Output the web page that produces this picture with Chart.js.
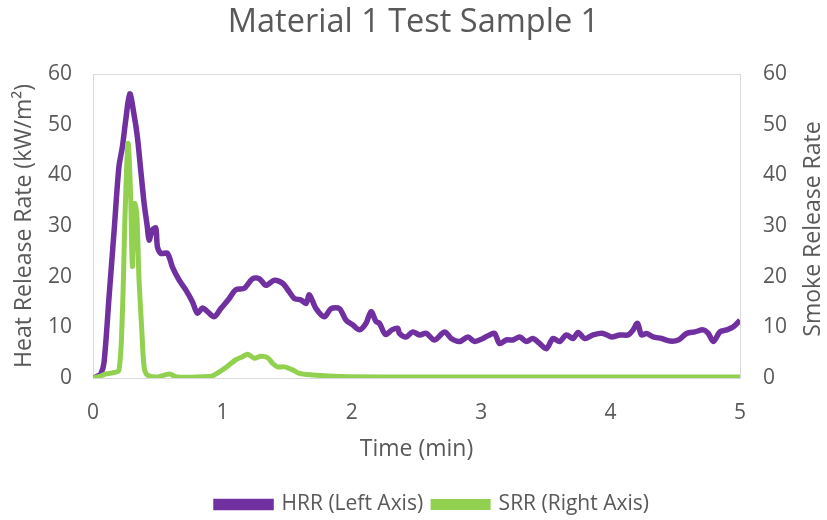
<!DOCTYPE html>
<html>
<head>
<meta charset="utf-8">
<script src="https://cdn.jsdelivr.net/npm/chart.js@4.4.1/dist/chart.umd.min.js"></script>
<style>
  html, body { margin: 0; padding: 0; background: #ffffff; }
  #wrap { width: 827px; height: 520px; }
</style>
</head>
<body>
<div id="wrap"><canvas id="c" width="827" height="520"></canvas></div>
<script>
const chartTitle = 'Material 1 Test Sample 1';
const xTitle = 'Time (min)';
const leftTitle = 'Heat Release Rate (kW/m²)';
const rightTitle = 'Smoke Release Rate';
const hrrLabel = 'HRR (Left Axis)';
const srrLabel = 'SRR (Right Axis)';

const hrrTime = [0, 0.03, 0.06, 0.085, 0.124, 0.163, 0.2, 0.227, 0.253, 0.284, 0.317, 0.343, 0.369, 0.395, 0.42, 0.433, 0.459, 0.485, 0.498, 0.524, 0.575, 0.614, 0.666, 0.717, 0.769, 0.807, 0.846, 0.885, 0.937, 0.988, 1.053, 1.104, 1.169, 1.233, 1.285, 1.337, 1.401, 1.465, 1.517, 1.556, 1.607, 1.646, 1.672, 1.724, 1.788, 1.84, 1.904, 1.956, 2.007, 2.059, 2.11, 2.149, 2.188, 2.214, 2.26, 2.31, 2.355, 2.368, 2.42, 2.471, 2.523, 2.575, 2.639, 2.717, 2.768, 2.833, 2.897, 2.949, 3.013, 3.065, 3.104, 3.142, 3.194, 3.245, 3.297, 3.349, 3.4, 3.452, 3.504, 3.555, 3.607, 3.658, 3.71, 3.749, 3.8, 3.865, 3.942, 4.007, 4.071, 4.136, 4.174, 4.208, 4.239, 4.278, 4.329, 4.394, 4.458, 4.523, 4.587, 4.652, 4.716, 4.755, 4.794, 4.845, 4.897, 4.949, 5.0];
const hrrValue = [0, 0.3, 0.8, 3, 16, 29, 41.6, 45.6, 50.9, 56.1, 52, 47.6, 41, 34.5, 29.8, 27.2, 29.2, 29.6, 25.9, 24.6, 24.6, 21.9, 19.3, 17.4, 15, 12.8, 13.8, 13.1, 12.1, 13.7, 15.7, 17.4, 17.7, 19.6, 19.6, 18.3, 19.3, 18.7, 17, 15.7, 15.4, 14.7, 16.4, 13.7, 12.1, 13.7, 13.7, 11.4, 10.5, 9.5, 10.8, 13.1, 11.1, 10.8, 8.6, 9.5, 9.8, 8.8, 8.1, 9.1, 8.5, 8.8, 7.5, 9.1, 7.8, 7.2, 8.1, 7.2, 7.8, 8.5, 8.8, 6.8, 7.5, 7.5, 8.1, 7.2, 7.8, 6.8, 5.8, 7.8, 7.2, 8.5, 7.8, 9.0, 7.8, 8.5, 8.8, 8.1, 8.5, 8.5, 9.5, 10.8, 8.5, 8.8, 8.1, 7.8, 7.3, 7.5, 8.8, 9.1, 9.5, 8.8, 7.2, 9.1, 9.5, 10.1, 11.4];

const srrTime = [0, 0.05, 0.1, 0.15, 0.2, 0.227, 0.248, 0.271, 0.291, 0.304, 0.322, 0.338, 0.356, 0.377, 0.395, 0.42, 0.5, 0.59, 0.65, 0.9, 0.937, 1.0, 1.053, 1.104, 1.156, 1.195, 1.246, 1.298, 1.349, 1.388, 1.427, 1.478, 1.543, 1.594, 1.697, 1.9, 2.5, 3.0, 4.0, 5.0];
const srrValue = [0, 0.3, 0.8, 1.0, 1.5, 12.7, 32.5, 46.3, 35.8, 22, 34.4, 32.5, 19.3, 9.5, 2.2, 0.6, 0.2, 0.8, 0.2, 0.3, 0.6, 1.6, 2.6, 3.6, 4.2, 4.7, 3.9, 4.3, 4.0, 2.9, 2.2, 2.2, 1.6, 0.9, 0.6, 0.3, 0.2, 0.2, 0.2, 0.2];

const xTicks = [0, 1, 2, 3, 4, 5];
const yTicks = [0, 10, 20, 30, 40, 50, 60];

const HRR_COLOR = '#7030A0';
const SRR_COLOR = '#92D050';
const TEXT = '#595959';
const FONT = "'Open Sans', 'Noto Sans', sans-serif";

const framePlugin = {
  id: 'frame',
  beforeDatasetsDraw(chart) {
    const a = chart.chartArea, ctx = chart.ctx;
    ctx.save();
    ctx.strokeStyle = '#d9d9d9';
    ctx.lineWidth = 1;
    ctx.strokeRect(Math.round(a.left) + 0.5, Math.round(a.top) + 0.5, Math.round(a.right - a.left), Math.round(a.bottom - a.top));
    ctx.restore();
  },
  afterDraw(chart) {
    const ctx = chart.ctx, a = chart.chartArea;
    ctx.save();
    ctx.translate(813, (a.top + a.bottom) / 2 + 3);
    ctx.rotate(-Math.PI / 2);
    ctx.fillStyle = TEXT;
    ctx.font = "23px " + FONT;
    ctx.textAlign = 'center';
    ctx.textBaseline = 'middle';
    ctx.fillText(rightTitle, 0, 0);
    ctx.restore();
  },
  afterLayout(chart) {
    const l = chart.legend;
    if (l) { l.left += 19; l.right += 19; l.top += 5; l.bottom += 5; }
  }
};

new Chart(document.getElementById('c'), {
  type: 'line',
  data: {
    datasets: [
      {
        label: hrrLabel,
        data: hrrTime.map((t, i) => ({ x: t, y: hrrValue[i] })),
        borderColor: HRR_COLOR,
        backgroundColor: HRR_COLOR,
        borderWidth: 5.5,
        pointRadius: 0,
        tension: 0.3,
        fill: false,
        yAxisID: 'y',
        order: 1
      },
      {
        label: srrLabel,
        data: srrTime.map((t, i) => ({ x: t, y: srrValue[i] })),
        borderColor: SRR_COLOR,
        backgroundColor: SRR_COLOR,
        borderWidth: 5,
        pointRadius: 0,
        tension: 0.3,
        fill: false,
        yAxisID: 'y1',
        order: 0
      }
    ]
  },
  options: {
    responsive: false,
    animation: false,
    devicePixelRatio: 1,
    layout: { padding: { left: 0, right: 0, top: 0, bottom: 0 } },
    plugins: {
      title: {
        display: true,
        text: chartTitle,
        color: TEXT,
        font: { family: FONT, size: 32.5, weight: 'normal' },
        padding: { top: 3, bottom: 32 }
      },
      legend: {
        position: 'bottom',
        labels: {
          color: TEXT,
          font: { family: FONT, size: 21 },
          boxWidth: 55,
          boxHeight: 6,
          padding: 10,
          sort: (a, b) => a.datasetIndex - b.datasetIndex
        }
      },
      tooltip: { enabled: false }
    },
    scales: {
      x: {
        type: 'linear',
        min: 0, max: 5,
        afterBuildTicks: (s) => { s.ticks = xTicks.map(v => ({ value: v })); },
        ticks: { color: TEXT, font: { family: FONT, size: 21 }, padding: 14 },
        grid: { display: false },
        border: { display: false },
        title: { display: true, text: xTitle, color: TEXT, font: { family: FONT, size: 23 }, padding: { top: 0, bottom: 16 } },
        afterFit: (s) => { s.height = 101; }
      },
      y: {
        position: 'left',
        min: 0, max: 60,
        afterBuildTicks: (s) => { s.ticks = yTicks.map(v => ({ value: v })); },
        ticks: { color: TEXT, font: { family: FONT, size: 21 }, padding: 13 },
        grid: { display: false },
        border: { display: false },
        title: { display: true, text: leftTitle, color: TEXT, font: { family: FONT, size: 23 }, padding: { top: 11, bottom: 0 } },
        afterFit: (s) => { s.width = 93; }
      },
      y1: {
        position: 'right',
        min: 0, max: 60,
        afterBuildTicks: (s) => { s.ticks = yTicks.map(v => ({ value: v })); },
        ticks: { color: TEXT, font: { family: FONT, size: 21 }, padding: 15 },
        grid: { display: false },
        border: { display: false },
        afterFit: (s) => { s.width = 87; }
      }
    }
  },
  plugins: [framePlugin]
});
</script>
</body>
</html>
